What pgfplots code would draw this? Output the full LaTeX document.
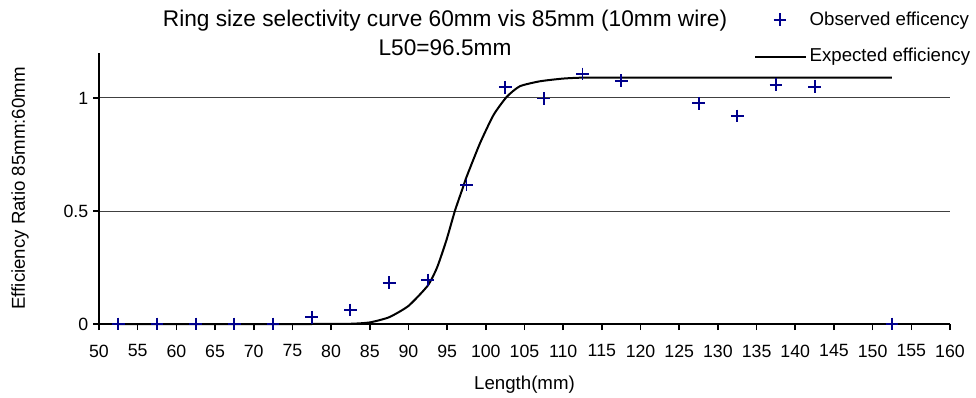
\documentclass[border=0pt]{standalone}
\usepackage{fontspec}
\setmainfont{Liberation Sans}
\usepackage{pgfplots}
\pgfplotsset{compat=1.18}
\definecolor{navyblue}{RGB}{0,0,140}
\pgfplotsset{
  marklegend/.style={legend image code/.code={\path[draw=none] (0pt,0pt) -- (38pt,0pt); \draw[##1] plot coordinates {(18.5pt,0pt)};}},
  linelegend/.style={legend image code/.code={\draw[##1] (0pt,-1.5pt) -- (38pt,-1.5pt);}},
}
\begin{document}
\begin{tikzpicture}
\begin{axis}[
  at={(74.25pt,54.75pt)}, anchor=south west,
  scale only axis, width=638.25pt, height=203.4pt,
  xmin=50, xmax=160, ymin=0, ymax=1.2,
  axis x line*=bottom, axis y line*=left,
  axis line style={line width=1.5pt, black, -},
  xtick={50,55,...,160}, ytick={0,0.5,1},
  tick align=outside, major tick length=4.5pt,
  tick style={line width=1.2pt, black},
  minor tick num=0,
  ymajorgrids, grid style={line width=0.75pt, black!75},
  tick label style={font=\fontsize{13.3}{15}\selectfont},
  xticklabel style={yshift=-7.5pt},
  /pgf/number format/assume math mode=true,
  xlabel={Length(mm)}, ylabel={Efficiency Ratio 85mm:60mm},
  label style={font=\fontsize{14}{16}\selectfont},
  xlabel style={at={(axis description cs:0.5,-0.222)}, anchor=center},
  ylabel style={at={(axis description cs:-0.0928,0.5)}, anchor=center},
  clip=false,
  legend style={at={(rel axis cs:0.7700,1.16)}, anchor=north west,
    draw=none, fill=none, inner sep=0pt, outer sep=0pt,
    font=\fontsize{14}{16}\selectfont, row sep=11pt},
  legend cell align=left,
]
\addplot[only marks, mark=+, mark size=4.8pt, line width=1.4pt, color=navyblue, marklegend]
  coordinates {
  (52.5,0) (57.5,0) (62.5,0) (67.5,0) (72.5,0) (77.5,0.03) (82.5,0.062)
  (87.5,0.183) (92.5,0.195) (97.5,0.615) (102.5,1.047) (107.5,0.998)
  (112.5,1.106) (117.5,1.077) (127.5,0.977) (132.5,0.920) (137.5,1.058)
  (142.5,1.050) (152.5,0)
  };
\addlegendentry{Observed efficency}
\addplot[black, line width=1.5pt, smooth, tension=0.35, linelegend]
  coordinates {
  (52.5,0) (57.5,0) (62.5,0) (67.5,0) (72.5,0) (77.5,0) (82.5,0.001)
  (85,0.007) (87.5,0.03) (90,0.08) (92.5,0.17) (93.7,0.25) (94.9,0.37)
  (96,0.50) (97,0.60) (97.5,0.65) (99.25,0.80) (101,0.925) (102.7,1.005)
  (104.4,1.052) (107,1.074) (110,1.086) (112.5,1.09) (117.5,1.09)
  (122.5,1.09) (127.5,1.09) (132.5,1.09) (137.5,1.09) (142.5,1.09)
  (147.5,1.09) (152.5,1.09)
  };
\addlegendentry{Expected efficiency}
\node[anchor=base, font=\fontsize{17}{20}\selectfont] at (axis cs:94.73,1.318) {Ring size selectivity curve 60mm vis 85mm (10mm wire)};
\node[anchor=base, font=\fontsize{17}{20}\selectfont] at (axis cs:94.73,1.190) {L50=96.5mm};
\end{axis}
\pgfresetboundingbox
\path[use as bounding box] (0,0) rectangle (732pt,297.75pt);
\end{tikzpicture}
\end{document}
